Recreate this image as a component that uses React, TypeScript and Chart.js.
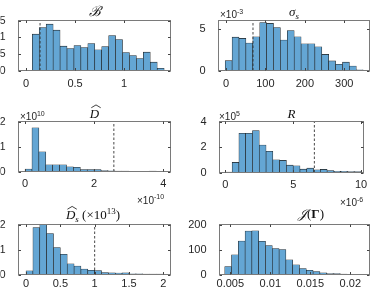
import React, { useEffect, useRef } from 'react';
import { Chart, registerables } from 'chart.js';
Chart.register(...registerables);

const W = 374;
const H = 289;

// ---------- Panel 1: B ----------
const bBinStart = 0.064;
const bBinWidth = 0.0708;
const bCounts = [1.09, 1.29, 1.39, 1.21, 0.73, 0.66, 0.75, 0.69, 0.81, 0.62, 0.72, 1.05, 0.93, 0.54, 0.45, 0.36, 0.55, 0.25, 0.065];
const bXTicks = [0, 0.5, 1];
const bXTickLabels = ['0', '0.5', '1'];
const bYTicks = [0, 0.5, 1, 1.5];
const bYTickLabels = ['0', '0.5', '1', '1.5'];
const bRef = 0.143;

// ---------- Panel 2: sigma_s (x 10^-3) ----------
const sBinStart = -2;
const sBinWidth = 17.5;
const sCounts = [1.18, 4.0, 3.85, 3.3, 4.05, 5.75, 5.65, 5.15, 3.65, 4.8, 4.05, 3.2, 3.2, 2.85, 1.93, 1.15, 0.75, 1.0, 0.53, 0.08];
const sXTicks = [0, 100, 200, 300];
const sXTickLabels = ['0', '100', '200', '300'];
const sYTicks = [0, 5];
const sYTickLabels = ['0', '5'];
const sRef = 68.5;

// ---------- Panel 3: D hat (x 10^10) ----------
const dBinStart = 0;
const dBinWidth = 0.2;
const dCounts = [0.1, 1.75, 0.79, 0.27, 0.27, 0.27, 0.19, 0.17, 0.08, 0.08, 0.08, 0.035, 0.03, 0.02, 0.015, 0.01, 0.01, 0.01, 0.015, 0.01];
const dXTicks = [0, 2, 4];
const dXTickLabels = ['0', '2', '4'];
const dYTicks = [0, 1, 2];
const dYTickLabels = ['0', '1', '2'];
const dRef = 2.57;

// ---------- Panel 4: R (x 10^5) ----------
const rBinStart = 0;
const rBinWidth = 0.5;
const rCounts = [0.03, 0.79, 3.08, 3.08, 3.29, 2.16, 1.66, 1.0, 0.95, 0.58, 0.53, 0.26, 0.34, 0.21, 0.24, 0.16, 0.1, 0.1, 0.08, 0.07];
const rXTicks = [0, 5, 10];
const rXTickLabels = ['0', '5', '10'];
const rYTicks = [0, 2, 4];
const rYTickLabels = ['0', '2', '4'];
const rRef = 6.56;

// ---------- Panel 5: D_s hat ----------
const dsBinStart = 0;
const dsBinWidth = 0.1;
const dsCounts = [0.15, 1.88, 2.08, 1.64, 1.08, 0.81, 0.43, 0.34, 0.22, 0.17, 0.16, 0.08, 0.07, 0.06, 0.07, 0.03, 0.03, 0.02, 0.02, 0.02];
const dsXTicks = [0, 0.5, 1, 1.5, 2];
const dsXTickLabels = ['0', '0.5', '1', '1.5', '2'];
const dsYTicks = [0, 1, 2];
const dsYTickLabels = ['0', '1', '2'];
const dsRef = 1.0;

// ---------- Panel 6: J(Gamma) ----------
const jBinStart = 0.0043;
const jBinWidth = 0.00085;
const jCounts = [32, 79, 134, 174, 175, 133, 116, 104, 100, 59, 39, 24, 17, 12, 7, 4, 4, 2, 1, 0.5];
const jXTicks = [0.005, 0.01, 0.015, 0.02];
const jXTickLabels = ['0.005', '0.01', '0.015', '0.02'];
const jYTicks = [0, 100, 200];
const jYTickLabels = ['0', '100', '200'];

// ---------- styling ----------
const BAR_FILL = 'rgb(100,166,212)';
const BAR_EDGE = '#1e1e1e';
const BOX = '#7a7a7a';
const TXT = '#262626';
const SANS = '"Liberation Sans", Arial, sans-serif';
const SERIF = '"Liberation Serif", "DejaVu Serif", serif';
const XH = 24;

type Run = { t: string; font: string; dy?: number; hat?: boolean };
type Label = { runs: Run[]; x: number; y: number; align: 'center' | 'left'; color: string };

interface PanelSpec {
  box: [number, number, number, number];
  xLabelPad: number;
  xRange: [number, number];
  yRange: [number, number];
  binStart: number;
  binWidth: number;
  counts: number[];
  xTicks: number[];
  xTickLabels: string[];
  yTicks: number[];
  yTickLabels: string[];
  refLine: number | null;
  labels: Label[];
}

const tf = (s: number) => `italic ${s}px ${SERIF}`;
const rf = (s: number) => `${s}px ${SERIF}`;
const sf = (s: number) => `${s}px ${SANS}`;

const expRuns = (p: string): Run[] => [
  { t: '×10', font: sf(10) },
  { t: p, font: sf(7), dy: -4.5 },
];

const panels: PanelSpec[] = [
  {
    box: [18.5, 20.5, 170.5, 70.5], xLabelPad: -1, xRange: [-0.077, 1.474], yRange: [0, 1.5],
    binStart: bBinStart, binWidth: bBinWidth, counts: bCounts,
    xTicks: bXTicks, xTickLabels: bXTickLabels, yTicks: bYTicks, yTickLabels: bYTickLabels, refLine: bRef,
    labels: [{ runs: [{ t: 'ℬ', font: tf(14) }], x: 94.5, y: 16, align: 'center', color: '#111' }],
  },
  {
    box: [218.5, 20.5, 369.5, 70.5], xLabelPad: -1, xRange: [-19, 364], yRange: [0, 6],
    binStart: sBinStart, binWidth: sBinWidth, counts: sCounts,
    xTicks: sXTicks, xTickLabels: sXTickLabels, yTicks: sYTicks, yTickLabels: sYTickLabels, refLine: sRef,
    labels: [
      { runs: [{ t: 'σ', font: tf(13) }, { t: 's', font: tf(9), dy: 2.5 }], x: 294, y: 16, align: 'center', color: '#111' },
      { runs: expRuns('-3'), x: 220, y: 18, align: 'left', color: TXT },
    ],
  },
  {
    box: [18.5, 121.5, 170.5, 171.5], xLabelPad: -2.5, xRange: [-0.19, 4.21], yRange: [0, 2],
    binStart: dBinStart, binWidth: dBinWidth, counts: dCounts,
    xTicks: dXTicks, xTickLabels: dXTickLabels, yTicks: dYTicks, yTickLabels: dYTickLabels, refLine: dRef,
    labels: [
      { runs: [{ t: 'D', font: tf(13), hat: true }], x: 94.5, y: 117.5, align: 'center', color: '#111' },
      { runs: expRuns('10'), x: 20, y: 120, align: 'left', color: TXT },
      { runs: expRuns('-10'), x: 137, y: 203.5, align: 'left', color: TXT },
    ],
  },
  {
    box: [219.5, 121.5, 363.5, 172.5], xLabelPad: -2.5, xRange: [-0.43, 10.18], yRange: [0, 4],
    binStart: rBinStart, binWidth: rBinWidth, counts: rCounts,
    xTicks: rXTicks, xTickLabels: rXTickLabels, yTicks: rYTicks, yTickLabels: rYTickLabels, refLine: rRef,
    labels: [
      { runs: [{ t: 'R', font: tf(13) }], x: 291.5, y: 117.7, align: 'center', color: '#111' },
      { runs: expRuns('5'), x: 219, y: 120, align: 'left', color: TXT },
      { runs: expRuns('-6'), x: 340, y: 206, align: 'left', color: TXT },
    ],
  },
  {
    box: [18.5, 224.5, 170.5, 274.5], xLabelPad: -5, xRange: [-0.11, 2.105], yRange: [0, 2],
    binStart: dsBinStart, binWidth: dsBinWidth, counts: dsCounts,
    xTicks: dsXTicks, xTickLabels: dsXTickLabels, yTicks: dsYTicks, yTickLabels: dsYTickLabels, refLine: dsRef,
    labels: [
      {
        runs: [
          { t: 'D', font: tf(13), hat: true },
          { t: 's', font: tf(9), dy: 2.5 },
          { t: ' (×10', font: rf(13) },
          { t: '13', font: rf(9), dy: -5 },
          { t: ')', font: rf(13) },
        ],
        x: 93, y: 219, align: 'center', color: '#111',
      },
    ],
  },
  {
    box: [219.5, 224.5, 369.5, 274.5], xLabelPad: -5, xRange: [0.00365, 0.0224], yRange: [0, 200],
    binStart: jBinStart, binWidth: jBinWidth, counts: jCounts,
    xTicks: jXTicks, xTickLabels: jXTickLabels, yTicks: jYTicks, yTickLabels: jYTickLabels, refLine: null,
    labels: [
      {
        runs: [
          { t: '𝒥', font: tf(13) },
          { t: '(', font: rf(13) },
          { t: 'Γ', font: `bold 13px ${SERIF}` },
          { t: ')', font: rf(13) },
        ],
        x: 311, y: 218, align: 'center', color: '#111',
      },
    ],
  },
];

function drawLabel(ctx: CanvasRenderingContext2D, lab: Label) {
  const widths = lab.runs.map((r) => {
    ctx.font = r.font;
    return ctx.measureText(r.t).width;
  });
  const total = widths.reduce((a, b) => a + b, 0);
  let cx = lab.align === 'center' ? lab.x - total / 2 : lab.x;
  ctx.fillStyle = lab.color;
  ctx.strokeStyle = lab.color;
  ctx.textBaseline = 'alphabetic';
  ctx.textAlign = 'left';
  lab.runs.forEach((r, i) => {
    ctx.font = r.font;
    const y = lab.y + (r.dy || 0);
    ctx.fillText(r.t, cx, y);
    if (r.hat) {
      const size = parseFloat(r.font.replace(/^[a-z ]*/, ''));
      const cap = size * 0.66;
      const w = widths[i];
      ctx.beginPath();
      ctx.lineWidth = 0.8;
      ctx.moveTo(cx + 1.5, y - cap - 1.2);
      ctx.lineTo(cx + w / 2 + 1.5, y - cap - 4);
      ctx.lineTo(cx + w + 1.5, y - cap - 1.2);
      ctx.stroke();
    }
    cx += widths[i];
  });
}

function makePlugin(spec: PanelSpec) {
  return {
    id: 'matlabBox',
    afterDraw(chart: any) {
      const ctx: CanvasRenderingContext2D = chart.ctx;
      const { left, right, top, bottom } = chart.chartArea;
      const xs = chart.scales.x;
      const ys = chart.scales.y;
      ctx.save();
      ctx.strokeStyle = BOX;
      ctx.lineWidth = 1;
      ctx.strokeRect(left, top, right - left, bottom - top);
      ctx.strokeStyle = '#444';
      ctx.beginPath();
      const tl = 2.5;
      spec.xTicks.forEach((v) => {
        const px = Math.round(xs.getPixelForValue(v)) + 0.5;
        ctx.moveTo(px, bottom);
        ctx.lineTo(px, bottom - tl);
        ctx.moveTo(px, top);
        ctx.lineTo(px, top + tl);
      });
      spec.yTicks.forEach((v) => {
        const py = Math.round(ys.getPixelForValue(v)) + 0.5;
        ctx.moveTo(left, py);
        ctx.lineTo(left + tl, py);
        ctx.moveTo(right, py);
        ctx.lineTo(right - tl, py);
      });
      ctx.stroke();
      spec.labels.forEach((lab) => drawLabel(ctx, lab));
      ctx.restore();
    },
  };
}

function buildConfig(spec: PanelSpec): any {
  const [l, t, r, b] = spec.box;
  const yw = Math.min(l - 0.5, 40);
  const barData = spec.counts.map((c, i) => ({ x: spec.binStart + (i + 0.5) * spec.binWidth, y: c }));
  const datasets: any[] = [
    {
      type: 'bar',
      data: barData,
      backgroundColor: BAR_FILL,
      borderColor: BAR_EDGE,
      borderWidth: 0.6,
      borderSkipped: false,
      barPercentage: 1,
      categoryPercentage: 1,
      order: 2,
    },
  ];
  if (spec.refLine !== null) {
    datasets.push({
      type: 'line',
      data: [
        { x: spec.refLine, y: spec.yRange[0] },
        { x: spec.refLine, y: spec.yRange[1] },
      ],
      borderColor: '#333',
      borderWidth: 0.9,
      borderDash: [2.5, 2],
      pointRadius: 0,
      fill: false,
      order: 1,
    });
  }
  const tickFont = { family: SANS, size: 11 };
  return {
    type: 'bar',
    data: { datasets },
    options: {
      animation: false,
      responsive: false,
      events: [],
      layout: { padding: { left: l - yw, top: t, right: W - r, bottom: H - b - XH } },
      plugins: { legend: { display: false }, tooltip: { enabled: false }, title: { display: false } },
      scales: {
        x: {
          type: 'linear',
          min: spec.xRange[0],
          max: spec.xRange[1],
          offset: false,
          grid: { display: false },
          border: { display: false },
          afterBuildTicks: (s: any) => {
            s.ticks = spec.xTicks.map((v) => ({ value: v }));
          },
          afterFit: (s: any) => {
            s.height = XH;
          },
          ticks: {
            autoSkip: false,
            maxRotation: 0,
            padding: spec.xLabelPad,
            color: TXT,
            font: tickFont,
            callback: (_v: any, i: number) => spec.xTickLabels[i],
          },
        },
        y: {
          type: 'linear',
          min: spec.yRange[0],
          max: spec.yRange[1],
          grid: { display: false },
          border: { display: false },
          afterBuildTicks: (s: any) => {
            s.ticks = spec.yTicks.map((v) => ({ value: v }));
          },
          afterFit: (s: any) => {
            s.width = yw;
          },
          ticks: {
            autoSkip: false,
            padding: 5,
            color: TXT,
            font: tickFont,
            callback: (_v: any, i: number) => spec.yTickLabels[i],
          },
        },
      },
    },
    plugins: [makePlugin(spec)],
  };
}

function Panel({ spec }: { spec: PanelSpec }) {
  const ref = useRef<HTMLCanvasElement | null>(null);
  useEffect(() => {
    if (!ref.current) return;
    const chart = new Chart(ref.current, buildConfig(spec));
    return () => chart.destroy();
  }, [spec]);
  return (
    <canvas
      ref={ref}
      width={W}
      height={H}
      style={{ position: 'absolute', left: 0, top: 0, width: W, height: H }}
    />
  );
}

export default function App() {
  return (
    <div style={{ position: 'absolute', left: 0, top: 0, width: W, height: H, background: '#fff', overflow: 'hidden' }}>
      {panels.map((p, i) => (
        <Panel key={i} spec={p} />
      ))}
    </div>
  );
}
